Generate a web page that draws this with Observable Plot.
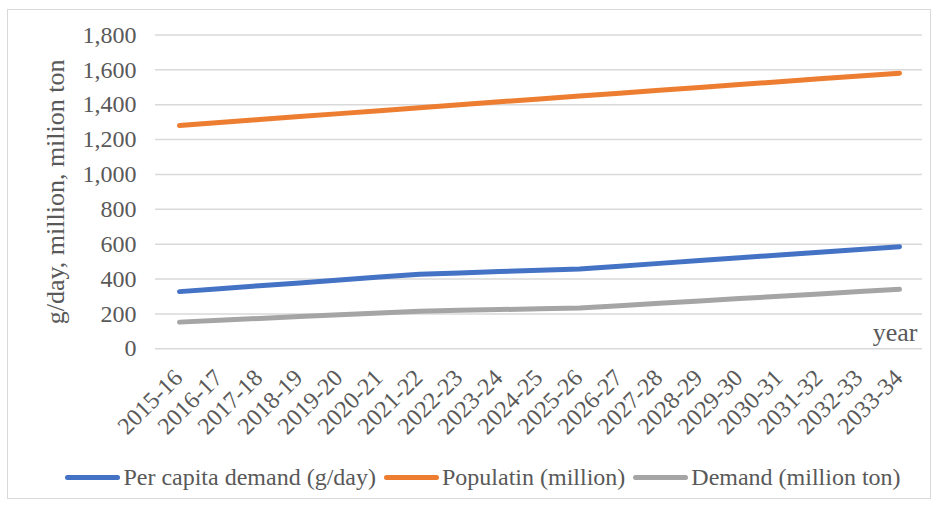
<!DOCTYPE html>
<html>
<head>
<meta charset="utf-8">
<script src="https://cdn.jsdelivr.net/npm/d3@7"></script>
<script src="https://cdn.jsdelivr.net/npm/@observablehq/plot@0.6"></script>
<style>
  html, body { margin: 0; padding: 0; background: #fff; }
  #chart { position: relative; width: 940px; height: 507px; font-family: "Liberation Serif", "Times New Roman", serif; color: #595959; }
  #border { position: absolute; left: 7px; top: 9px; width: 924px; height: 490px; border: 1px solid #d9d9d9; box-sizing: border-box; pointer-events: none; }
  #legend { position: absolute; left: 0; top: 455px; width: 940px; height: 44px; padding-left: 26px; box-sizing: border-box; display: flex; align-items: center; justify-content: center; font-size: 24px; }
  .item { display: flex; align-items: center; margin: 0 4px; }
  .swatch { width: 55px; height: 5px; border-radius: 3px; margin-right: 3px; }
</style>
</head>
<body>
<div id="chart"><div id="border"></div></div>
<script>
// Fiscal years on the x axis
const years = ["2015-16","2016-17","2017-18","2018-19","2019-20","2020-21","2021-22","2022-23","2023-24","2024-25","2025-26","2026-27","2027-28","2028-29","2029-30","2030-31","2031-32","2032-33","2033-34"];

// Series values
const perCapita = [328,345,362,378,395,412,428,435,443,450,458,474,490,506,522,538,554,570,586];
const population = [1281,1298,1315,1332,1349,1366,1383,1400,1417,1433,1450,1466,1483,1499,1516,1532,1549,1565,1581];
const demand = [153,164,174,185,195,206,216,221,225,230,234,247,261,274,288,301,314,328,341];

const seriesNames = ["Per capita demand (g/day)", "Populatin (million)", "Demand (million ton)"];
const seriesColors = ["#4472C4", "#ED7D31", "#A5A5A5"];
const yTicks = [0,200,400,600,800,1000,1200,1400,1600,1800];

const seriesValues = [perCapita, population, demand];
const rows = seriesValues.flatMap((vals, s) => vals.map((v, i) => ({year: years[i], value: v, series: seriesNames[s]})));

const plot = Plot.plot({
  width: 940,
  height: 455,
  marginLeft: 155,
  marginRight: 18,
  marginTop: 34.5,
  marginBottom: 106.7,
  style: {fontFamily: "Liberation Serif, Times New Roman, serif", fontSize: "24px", color: "#595959", background: "transparent"},
  x: {type: "point", domain: years, padding: 0.5},
  y: {domain: [0, 1800]},
  color: {domain: seriesNames, range: seriesColors},
  marks: [
    Plot.gridY(yTicks, {stroke: "#d9d9d9", strokeOpacity: 1, strokeWidth: 1.5}),
    Plot.axisY(yTicks, {tickSize: 0, tickPadding: 19, tickFormat: d3.format(","), fontSize: 24, label: null}),
    Plot.axisY({ticks: [], tickSize: 0, label: "g/day, million, milion ton", labelAnchor: "center", labelArrow: "none", labelOffset: 110, fontSize: 26}),
    Plot.axisX(years, {tickSize: 0, tickRotate: -45, tickPadding: 25, dx: -1, fontSize: 24, label: null}),
    Plot.line(rows, {x: "year", y: "value", z: "series", stroke: "series", strokeWidth: 5, strokeLinecap: "round", strokeLinejoin: "round"}),
    Plot.text(["year"], {frameAnchor: "bottom-right", text: d => d, dx: -5, dy: -8, lineAnchor: "bottom", textAnchor: "end", fontSize: 26, fill: "#595959"})
  ]
});
document.getElementById("chart").prepend(plot);

// Legend row under the plot
const legend = document.createElement("div");
legend.id = "legend";
seriesNames.forEach((name, i) => {
  const item = document.createElement("div");
  item.className = "item";
  const sw = document.createElement("span");
  sw.className = "swatch";
  sw.style.background = seriesColors[i];
  const label = document.createElement("span");
  label.textContent = name;
  item.append(sw, label);
  legend.append(item);
});
document.getElementById("chart").append(legend);
</script>
</body>
</html>
